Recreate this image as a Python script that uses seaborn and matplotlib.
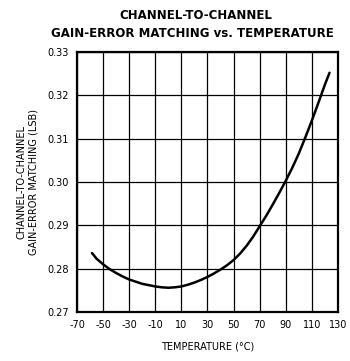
import matplotlib
matplotlib.use("Agg")
import matplotlib.pyplot as plt
import seaborn as sns
import pandas as pd

temperature = [-58.5, -55, -50, -45, -40, -35, -30, -25, -20, -15, -10, -5, 0, 5, 10, 15, 20, 25,
               30, 35, 40, 45, 50, 55, 60, 65, 70, 75, 80, 85, 90, 95, 100, 105, 110, 115, 120, 123.5]
matching = [0.2836, 0.2823, 0.2810, 0.2799, 0.2790, 0.2782, 0.2775, 0.2770, 0.2765, 0.2762,
            0.2759, 0.2757, 0.2756, 0.2757, 0.2759, 0.2763, 0.2768, 0.2774, 0.2781, 0.2789,
            0.2798, 0.2808, 0.2820, 0.2835, 0.2853, 0.2874, 0.2898, 0.2922, 0.2948, 0.2975,
            0.3003, 0.3033, 0.3066, 0.3103, 0.3142, 0.3183, 0.3225, 0.3252]
x_ticks = [-70, -50, -30, -10, 10, 30, 50, 70, 90, 110, 130]
y_ticks = [0.27, 0.28, 0.29, 0.30, 0.31, 0.32, 0.33]

sns.set_style("white")
plt.rcParams['font.family'] = ['DejaVu Sans']
plt.rcParams['text.color'] = 'black'
plt.rcParams['axes.labelcolor'] = 'black'
plt.rcParams['xtick.color'] = 'black'
plt.rcParams['ytick.color'] = 'black'

df = pd.DataFrame({"T": temperature, "M": matching})

fig = plt.figure(figsize=(3.5, 3.61), dpi=100)
ax = fig.add_axes([0.22, 0.1357, 0.7457, 0.7203])
sns.lineplot(data=df, x="T", y="M", ax=ax, color="black", linewidth=1.8)

ax.set_xlim(-70, 130)
ax.set_ylim(0.27, 0.33)
ax.set_xticks(x_ticks)
ax.set_xticklabels([f"{t}" for t in x_ticks], fontsize=7)
ax.set_yticks(y_ticks)
ax.set_yticklabels([f"{v:.2f}" for v in y_ticks], fontsize=7)
ax.grid(True, color="black", linewidth=0.9)
ax.tick_params(length=0, pad=6)
for s in ax.spines.values():
    s.set_color("black")
    s.set_linewidth(1.6)

ax.set_xlabel("TEMPERATURE (°C)", fontsize=7, labelpad=8)
ax.set_ylabel("CHANNEL-TO-CHANNEL\nGAIN-ERROR MATCHING (LSB)", fontsize=7, labelpad=6, linespacing=1.3)

fig.text(0.56, 0.958, "CHANNEL-TO-CHANNEL", ha="center", va="center", fontsize=8.5, fontweight="bold")
fig.text(0.55, 0.908, "GAIN-ERROR MATCHING vs. TEMPERATURE", ha="center", va="center", fontsize=8.5, fontweight="bold")

fig.savefig("out.png", dpi=100)
